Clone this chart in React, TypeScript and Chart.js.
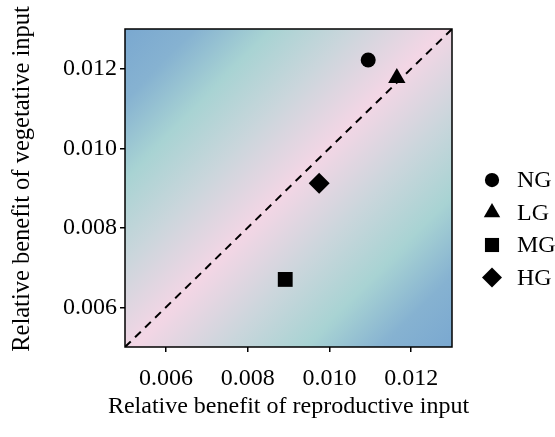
import { useEffect, useRef } from 'react';
import { Chart, registerables } from 'chart.js';
import { drawPoint } from 'chart.js/helpers';

Chart.register(...registerables);

const groups = ['NG', 'LG', 'MG', 'HG'];
const reproductiveBenefit = [0.01095, 0.01165, 0.00892, 0.00975];
const vegetativeBenefit = [0.01222, 0.01177, 0.0067, 0.00912];
const markerStyles = ['circle', 'triangle', 'rect', 'rectRot'];
const markerRadii = [7.5, 10, 10.5, 10.5];
const tickValues = [0.006, 0.008, 0.01, 0.012];
const axisRange = [0.005, 0.013];
const xTitle = 'Relative benefit of reproductive input';
const yTitle = 'Relative benefit of vegetative input';

const FONT = "'Liberation Serif', 'Times New Roman', serif";

const decorPlugin = {
  id: 'decor',
  beforeDraw(chart: any) {
    const { ctx, chartArea: a } = chart;
    const g = ctx.createLinearGradient(a.left, a.top, a.right, a.bottom);
    g.addColorStop(0, '#7aa8d0');
    g.addColorStop(0.11, '#86b2d1');
    g.addColorStop(0.23, '#a8d3d3');
    g.addColorStop(0.36, '#cbd6dc');
    g.addColorStop(0.5, '#f3d6e5');
    g.addColorStop(0.64, '#cbd6dc');
    g.addColorStop(0.77, '#a8d3d3');
    g.addColorStop(0.89, '#86b2d1');
    g.addColorStop(1, '#7aa8d0');
    ctx.save();
    ctx.fillStyle = g;
    ctx.fillRect(a.left, a.top, a.right - a.left, a.bottom - a.top);
    ctx.restore();
  },
  afterDraw(chart: any) {
    const { ctx, chartArea: a } = chart;
    ctx.save();
    ctx.strokeStyle = '#000';
    ctx.lineWidth = 1.5;
    ctx.strokeRect(a.left, a.top, a.right - a.left, a.bottom - a.top);

    ctx.fillStyle = '#000';
    ctx.font = `24px ${FONT}`;
    ctx.textAlign = 'center';
    ctx.textBaseline = 'middle';
    ctx.fillText(xTitle, (a.left + a.right) / 2, 407);
    ctx.save();
    ctx.font = `24.5px ${FONT}`;
    ctx.translate(23, 179);
    ctx.rotate(-Math.PI / 2);
    ctx.fillText(yTitle, 0, 0);
    ctx.restore();

    // legend
    const symX = a.right + 40;
    const textX = a.right + 65;
    const top = 180;
    const gap = 32.5;
    groups.forEach((name, i) => {
      const y = top + i * gap;
      ctx.fillStyle = '#000';
      drawPoint(ctx, { pointStyle: markerStyles[i], radius: markerRadii[i] * 0.95, rotation: 0, borderWidth: 0 } as any, symX, y);
      ctx.textAlign = 'left';
      ctx.textBaseline = 'middle';
      ctx.fillText(name, textX, y + 1);
    });
    ctx.restore();
  },
};

export default function App() {
  const ref = useRef<HTMLCanvasElement>(null);
  useEffect(() => {
    document.body.style.margin = '0';
    const datasets: any[] = groups.map((name, i) => ({
      type: 'scatter',
      label: name,
      data: [{ x: reproductiveBenefit[i], y: vegetativeBenefit[i] }],
      pointStyle: markerStyles[i],
      pointRadius: markerRadii[i],
      pointBackgroundColor: '#000',
      pointBorderWidth: 0,
      pointBorderColor: '#000',
    }));
    datasets.push({
      type: 'line',
      label: '1:1',
      data: [
        { x: axisRange[0], y: axisRange[0] },
        { x: axisRange[1], y: axisRange[1] },
      ],
      borderColor: '#000',
      borderWidth: 2,
      borderDash: [8, 6],
      pointRadius: 0,
      fill: false,
    });
    const tickCfg = {
      color: '#000',
      font: { family: FONT, size: 24 },
      callback: (v: any) => Number(v).toFixed(3),
    };
    const chart = new Chart(ref.current!, {
      type: 'scatter',
      data: { datasets },
      options: {
        animation: false,
        responsive: false,
        events: [],
        layout: { padding: { left: 0, top: 29, right: 103, bottom: 0 } },
        plugins: { legend: { display: false }, tooltip: { enabled: false } },
        scales: {
          x: {
            type: 'linear',
            min: axisRange[0],
            max: axisRange[1],
            afterBuildTicks: (s: any) => { s.ticks = tickValues.map((v) => ({ value: v })); },
            afterFit: (s: any) => { s.height = 90; },
            ticks: { ...tickCfg, padding: 12, maxRotation: 0 },
            grid: { display: true, drawOnChartArea: false, drawTicks: true, tickLength: 5, color: '#000', lineWidth: 1.5 },
            border: { display: false },
          },
          y: {
            type: 'linear',
            min: axisRange[0],
            max: axisRange[1],
            afterBuildTicks: (s: any) => { s.ticks = tickValues.map((v) => ({ value: v })); },
            afterFit: (s: any) => { s.width = 125; },
            ticks: { ...tickCfg, padding: 3 },
            grid: { display: true, drawOnChartArea: false, drawTicks: true, tickLength: 5, color: '#000', lineWidth: 1.5 },
            border: { display: false },
          },
        },
      },
      plugins: [decorPlugin],
    } as any);
    return () => chart.destroy();
  }, []);
  return (
    <div style={{ width: 555, height: 437 }}>
      <canvas ref={ref} width={555} height={437} style={{ display: 'block' }} />
    </div>
  );
}
